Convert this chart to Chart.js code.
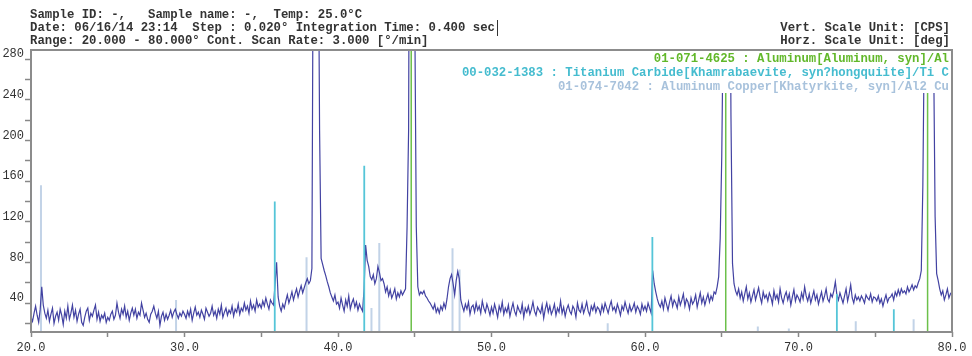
<!DOCTYPE html>
<html>
<head>
<meta charset="utf-8">
<script src="https://cdn.jsdelivr.net/npm/chart.js@4.4.1/dist/chart.umd.min.js"></script>
<style>
body { margin: 0; background: #fff; }
#wrap { position: relative; width: 972px; height: 356px; }
#xrd { position: absolute; left: 0; top: 0; }
.txt { position: absolute; font-family: 'Liberation Mono', 'DejaVu Sans Mono', monospace; font-weight: bold; font-size: 12.3px; white-space: pre; color: #333; }
#head { left: 30px; top: 9px; line-height: 13px; }
#units { right: 22px; top: 22px; line-height: 13px; text-align: right; }
#cursor { position: absolute; left: 497px; top: 20px; height: 16px; border-left: 1px solid #333; }
#cards { left: 455px; top: 51px; width: 494px; height: 42px; padding-right: 2px; background: #fff; text-align: right; line-height: 14px; }
#cards div { position: relative; top: 1px; }
</style>
</head>
<body>
<div id="wrap">
<canvas id="xrd" width="972" height="356"></canvas>
<div class="txt" id="head">Sample ID: -,   Sample name: -,  Temp: 25.0°C
Date: 06/16/14 23:14  Step : 0.020° Integration Time: 0.400 sec
Range: 20.000 - 80.000° Cont. Scan Rate: 3.000 [°/min]</div>
<div id="cursor"></div>
<div class="txt" id="units">Vert. Scale Unit: [CPS]
Horz. Scale Unit: [deg]</div>
<div class="txt" id="cards"><div style="color:#62b82a">01-071-4625 : Aluminum[Aluminum, syn]/Al</div><div style="color:#45bccf">00-032-1383 : Titanium Carbide[Khamrabaevite, syn?hongquiite]/Ti C</div><div style="color:#a8c2dc">01-074-7042 : Aluminum Copper[Khatyrkite, syn]/Al2 Cu</div></div>
</div>
<script>
// scan: 20-80 deg, read every 0.1 deg off the picture
var scanStart = 20.0;
var scanStep = 0.1;

var counts20 = [
	26, 22, 30, 37, 28, 21, 34, 56, 38, 30,
	25, 33, 22, 29, 35, 20, 27, 31, 23, 34,
	28, 19, 32, 25, 37, 24, 30, 38, 26, 33,
	22, 29, 34, 21, 18, 26, 32, 35, 23, 30,
	27, 33, 38, 24, 31, 22, 28, 25, 30, 21,
	26, 23, 29, 32, 24, 28, 40, 31, 25, 34,
	29, 37, 26, 32, 23, 30, 35, 28, 34, 25,
	31, 28, 40, 33, 26, 30, 24, 21, 29, 32,
	37, 30, 25, 32, 18, 27, 31, 23, 29, 24,
	28, 33, 26, 31, 34, 29, 25, 30, 27, 32
];
var counts30 = [
	29, 25, 32, 27, 34, 23, 30, 36, 28, 31,
	26, 33, 29, 24, 35, 31, 27, 30, 37, 28,
	32, 25, 34, 29, 38, 26, 31, 35, 28, 33,
	30, 37, 27, 34, 31, 39, 29, 35, 32, 40,
	33, 37, 30, 42, 34, 38, 32, 43, 36, 39,
	35, 42, 37, 45, 39, 34, 43, 40, 38, 59,
	80, 46, 37, 32, 39, 35, 42, 48, 40, 45,
	51, 43, 49, 54, 46, 52, 57, 50, 55, 60,
	64, 59, 62, 74, 460, 1200, 1200, 460, 210, 84,
	78, 72, 67, 61, 56, 50, 46, 42, 48, 39
];
var counts40 = [
	41, 35, 45, 38, 32, 43, 37, 47, 34, 40,
	44, 36, 41, 33, 39, 35, 32, 54, 97, 82,
	76, 66, 63, 68, 59, 64, 76, 70, 62, 64,
	59, 51, 56, 47, 53, 45, 49, 54, 44, 50,
	46, 52, 48, 51, 54, 115, 210, 700, 1500, 900,
	330, 115, 56, 48, 51, 49, 52, 47, 45, 42,
	40, 37, 34, 39, 31, 35, 30, 37, 33, 40,
	35, 44, 56, 64, 68, 59, 48, 62, 71, 64,
	43, 37, 32, 39, 34, 41, 29, 36, 38, 31,
	40, 33, 37, 30, 42, 35, 31, 39, 34, 28
];
var counts50 = [
	36, 30, 39, 33, 26, 37, 32, 41, 29, 35,
	31, 38, 27, 34, 40, 32, 28, 37, 33, 30,
	39, 26, 35, 31, 37, 29, 34, 41, 32, 28,
	36, 33, 30, 38, 25, 34, 40, 31, 37, 29,
	33, 39, 28, 35, 31, 42, 30, 36, 27, 34,
	38, 32, 29, 37, 34, 26, 40, 33, 31, 39,
	30, 35, 41, 32, 28, 37, 33, 39, 31, 36,
	34, 29, 38, 32, 40, 35, 30, 37, 42, 33,
	36, 31, 39, 34, 28, 37, 33, 41, 35, 30,
	38, 32, 35, 40, 31, 37, 34, 29, 39, 33
];
var counts60 = [
	37, 32, 40, 35, 30, 72, 59, 51, 44, 39,
	36, 42, 34, 45, 39, 33, 41, 47, 37, 43,
	40, 35, 46, 38, 43, 49, 37, 44, 41, 34,
	45, 39, 42, 48, 36, 43, 50, 40, 46, 38,
	44, 49, 41, 47, 43, 51, 49, 56, 66, 104,
	184, 324, 800, 900, 800, 500, 224, 79, 59, 52,
	48, 54, 45, 51, 42, 49, 56, 44, 50, 41,
	47, 53, 43, 49, 55, 46, 40, 51, 45, 48,
	42, 50, 46, 39, 52, 44, 48, 41, 54, 45,
	40, 47, 51, 43, 49, 38, 46, 53, 42, 48
];
var counts70 = [
	45, 41, 50, 44, 56, 47, 42, 49, 40, 46,
	52, 43, 48, 39, 45, 51, 42, 47, 54, 44,
	41, 49, 46, 52, 61, 48, 43, 50, 45, 40,
	47, 54, 42, 49, 58, 45, 40, 48, 43, 46,
	42, 47, 44, 40, 48, 45, 43, 49, 41, 46,
	45, 42, 47, 40, 44, 37, 43, 48, 41, 45,
	46, 49, 43, 51, 47, 53, 48, 54, 50, 52,
	49, 56, 51, 54, 58, 53, 57, 55, 60, 64,
	72, 155, 310, 700, 900, 900, 700, 500, 290, 125,
	69, 62, 54, 48, 52, 43, 48, 54, 45, 49
];
var counts80 = [51];

// reference cards (stick positions, heights as drawn)
var alPos = [44.77, 65.26, 78.41];
var alInt = [1000, 1000, 1000];
var ticPos = [35.88, 41.71, 60.48, 72.5, 76.21];
var ticInt = [140, 175, 105, 49, 34];
var cuPos = [20.65, 29.45, 37.95, 42.18, 42.69, 47.46, 47.92, 57.57, 67.35, 69.37, 73.73, 77.5];
var cuInt = [156, 43, 85, 35, 99, 94, 73, 20, 17, 15, 22, 24];

var xTicks = [20, 25, 30, 35, 40, 45, 50, 55, 60, 65, 70, 75, 80];
var yTicks = [20, 40, 60, 80, 100, 120, 140, 160, 180, 200, 220, 240, 260, 280];

var counts = [].concat(counts20, counts30, counts40, counts50, counts60, counts70, counts80);
var scan = counts.map(function(c, i){
	return { x: +(scanStart + i * scanStep).toFixed(2), y: c };
});

function sticks(pos, hts) {
	var pts = [];
	pos.forEach(function(p, i){
		pts.push({ x: p, y: 0 }, { x: p, y: hts[i] }, { x: p, y: null });
	});
	return pts;
}

var monoTick = { family: "'Liberation Mono', monospace", size: 12 };

var frame = {
	id: 'frame',
	afterDatasetsDraw: function(chart) {
		var a = chart.chartArea, c = chart.ctx;
		c.save();
		c.strokeStyle = '#8c8c8c';
		c.lineWidth = 2;
		c.strokeRect(a.left, a.top, a.right - a.left, a.bottom - a.top);
		c.restore();
	}
};

new Chart(document.getElementById('xrd'), {
	type: 'line',
	data: {
		datasets: [
			{ data: sticks(alPos, alInt), borderColor: '#6cc04a', borderWidth: 1.5, pointRadius: 0, spanGaps: false },
			{ data: sticks(ticPos, ticInt), borderColor: '#55c5d8', borderWidth: 1.8, pointRadius: 0, spanGaps: false },
			{ data: scan, borderColor: '#4242a2', borderWidth: 1.2, pointRadius: 0, tension: 0 },
			{ data: sticks(cuPos, cuInt), borderColor: '#c2d3e7', borderWidth: 2, pointRadius: 0, spanGaps: false }
		]
	},
	options: {
		responsive: false,
		animation: false,
		layout: { padding: { top: 50, right: 20, left: 0, bottom: 0 } },
		plugins: { legend: { display: false }, tooltip: { enabled: false } },
		scales: {
			x: {
				type: 'linear', min: 20, max: 80,
				afterBuildTicks: function(s){ s.ticks = xTicks.map(function(v){ return { value: v }; }); },
				afterFit: function(s){ s.height = 24; },
				grid: { drawOnChartArea: false, tickLength: 5, color: '#888', tickWidth: 1.5 },
				border: { display: false },
				ticks: {
					autoSkip: false, maxRotation: 0, padding: 4, color: '#333', font: monoTick,
					callback: function(v){ return v % 10 === 0 ? v.toFixed(1) : ''; }
				}
			},
			y: {
				min: 11.5, max: 289,
				afterBuildTicks: function(s){ s.ticks = yTicks.map(function(v){ return { value: v }; }); },
				afterFit: function(s){ s.width = 31; },
				grid: { drawOnChartArea: false, tickLength: 6, color: '#888', tickWidth: 1.5 },
				border: { display: false },
				ticks: {
					autoSkip: false, padding: 1, labelOffset: -5, color: '#333', font: monoTick,
					callback: function(v){ return v % 40 === 0 ? String(v) : ''; }
				}
			}
		}
	},
	plugins: [frame]
});
</script>
</body>
</html>
